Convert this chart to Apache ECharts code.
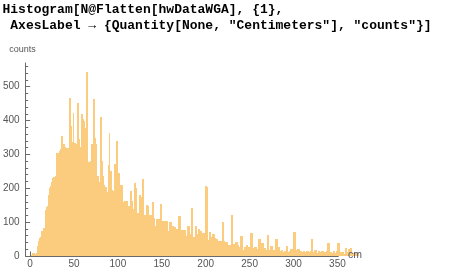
<!DOCTYPE html>
<html>
<head>
<meta charset="utf-8">
<script src="https://cdn.jsdelivr.net/npm/echarts@6/dist/echarts.min.js"></script>
<style>html,body{margin:0;padding:0;background:#fff;}#c{width:472px;height:272px;}</style>
</head>
<body>
<div id="c"></div>
<script>
// Histogram bins of width 1 cm starting at 0 cm
var binStart = 0;
var binWidth = 1;
var counts = [
  0,0,3,9,10,6,5,9,18,30,
  44,53,55,74,73,83,84,84,137,146,
  148,180,202,206,220,224,230,232,234,236,
  305,303,300,307,310,316,355,296,331,322,
  320,318,320,319,319,467,384,336,333,421,
  308,333,320,330,453,347,322,322,323,418,
  404,398,378,376,544,278,250,252,278,282,
  332,332,465,349,329,330,234,236,217,218,
  411,280,237,237,209,204,204,189,190,268,
  364,250,252,194,191,192,271,271,339,246,
  246,245,160,209,209,160,160,162,140,161,
  161,149,149,149,192,163,163,138,138,217,
  200,128,128,126,126,180,175,153,228,121,
  122,118,118,151,148,121,121,120,122,160,
  158,111,85,90,108,107,108,106,106,154,
  101,103,103,102,103,103,64,74,74,100,
  100,89,89,77,85,85,79,79,79,118,
  118,74,77,77,77,77,77,60,60,89,
  89,60,64,64,143,50,57,57,89,89,
  50,65,79,74,74,69,69,69,69,69,
  207,205,47,47,70,70,55,55,65,65,
  52,50,50,44,44,45,45,45,45,100,
  44,33,33,40,40,33,33,33,33,121,
  118,26,35,35,41,41,33,26,26,26,
  59,59,18,18,26,26,33,33,26,26,
  26,69,69,20,23,23,26,26,20,20,
  50,50,26,26,39,39,23,23,18,18,
  62,62,18,18,30,30,18,18,16,16,
  50,50,26,26,16,16,18,18,13,13,
  15,15,30,13,13,15,15,20,20,13,
  72,72,13,18,18,21,21,15,15,13,
  13,15,15,11,11,15,15,13,13,15,
  50,50,13,13,18,18,8,8,16,16,
  13,13,15,15,13,13,10,10,16,39,
  39,13,13,10,10,16,16,10,10,16,
  39,39,3,3,11,11,11,6,6,23,
  6,6,13,20,6,23,10,10,5,13,
  13,8,10,10
];
var xMajorTicks = [0,50,100,150,200,250,300,350];
var yMajorTicks = [0,100,200,300,400,500];
var xMinorTicks = [];
for (var t = 0; t <= 350; t += 10) xMinorTicks.push(t);
var yMinorTicks = [];
for (var u = 0; u <= 560; u += 20) yMinorTicks.push(u);

var codeLine1 = 'Histogram[N@Flatten[hwDataWGA], {1},';
var codeLine2 = ' AxesLabel \u2192 {Quantity[None, "Centimeters"], "counts"}]';
var xName = 'cm';
var yName = 'counts';

var data = counts.map(function (c, i) {
  var s = binStart + i * binWidth;
  return [s, s + binWidth, c];
});

var axisColor = '#6a6a6a';
var labelColor = '#555';
var barColor = '#FBCB7E';

var chart = echarts.init(document.getElementById('c'), null, {renderer: 'canvas'});
chart.setOption({
  animation: false,
  grid: {left: 23.3, top: 63, width: 315, height: 193, containLabel: false},
  xAxis: [{
    type: 'value', min: -5, max: 351, offset: 0,
    axisLine: {show: true, onZero: false, lineStyle: {color: axisColor, width: 1}},
    axisTick: {show: true, inside: true, length: 4.5, customValues: xMajorTicks, lineStyle: {color: axisColor}},
    axisLabel: {show: true, customValues: xMajorTicks, margin: 3, color: labelColor, fontSize: 10, fontFamily: 'Liberation Sans'},
    splitLine: {show: false}
  }, {
    type: 'value', min: -5, max: 351, position: 'bottom', offset: 0,
    axisLine: {show: false, onZero: false},
    axisTick: {show: true, inside: true, length: 2.5, customValues: xMinorTicks, lineStyle: {color: axisColor}},
    axisLabel: {show: false},
    splitLine: {show: false}
  }],
  yAxis: [{
    type: 'value', min: 0, max: 570, position: 'left', offset: 0,
    axisLine: {show: true, onZero: false, lineStyle: {color: axisColor, width: 1}},
    axisTick: {show: true, inside: true, length: 4.5, customValues: yMajorTicks, lineStyle: {color: axisColor}},
    axisLabel: {show: true, customValues: yMajorTicks, margin: 6, color: labelColor, fontSize: 10, fontFamily: 'Liberation Sans'},
    splitLine: {show: false}
  }, {
    type: 'value', min: 0, max: 570, position: 'left', offset: 0,
    axisLine: {show: false, onZero: false},
    axisTick: {show: true, inside: true, length: 2.5, customValues: yMinorTicks, lineStyle: {color: axisColor}},
    axisLabel: {show: false},
    splitLine: {show: false}
  }],
  series: [{
    type: 'custom',
    xAxisIndex: 0, yAxisIndex: 0,
    clip: false,
    z: 1,
    encode: {x: [0, 1], y: 2},
    data: data,
    renderItem: function (params, api) {
      var p0 = api.coord([api.value(0), api.value(2)]);
      var p1 = api.coord([api.value(1), 0]);
      var x0 = Math.floor(p0[0]);
      var x1 = Math.ceil(p1[0]);
      var y0 = Math.round(p0[1]);
      var y1 = Math.round(p1[1]);
      return {
        type: 'rect',
        shape: {x: x0, y: y0, width: Math.max(1, x1 - x0), height: y1 - y0},
        style: {fill: barColor}
      };
    }
  }],
  graphic: [
    {type: 'text', left: 2.5, top: 3, style: {text: codeLine1, font: 'bold 13px "Liberation Mono"', fill: '#000'}},
    {type: 'text', left: 2.5, top: 19.5, style: {text: codeLine2, font: 'bold 13px "Liberation Mono"', fill: '#000'}},
    {type: 'text', x: 22.5, y: 50, style: {text: yName, font: '9px "Liberation Sans"', fill: labelColor, align: 'center', verticalAlign: 'middle'}},
    {type: 'text', x: 348, y: 255.5, z: 10, style: {text: xName, font: '10.5px "Liberation Sans"', fill: '#4d5870', align: 'left', verticalAlign: 'middle'}}
  ]
});
</script>
</body>
</html>
